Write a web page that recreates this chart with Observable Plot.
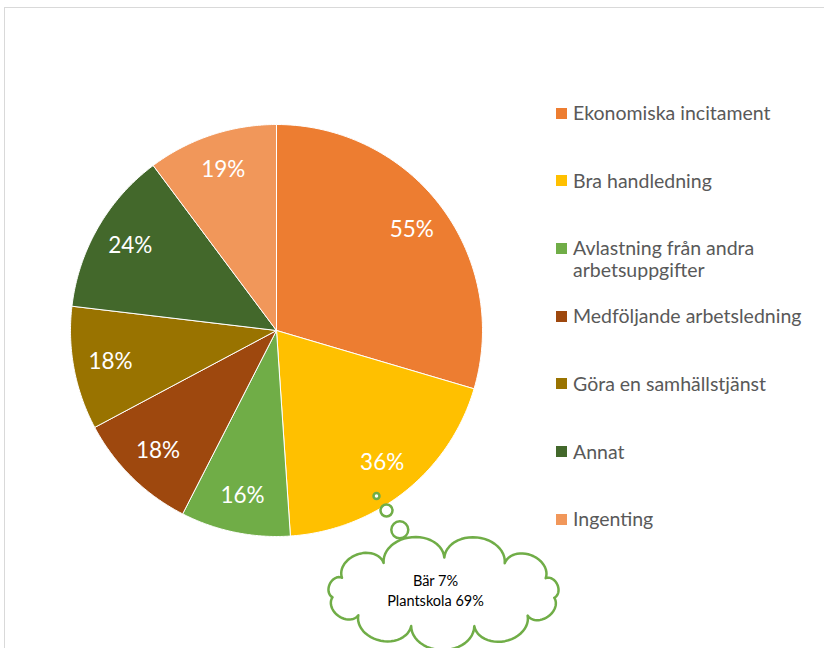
<!DOCTYPE html>
<html><head><meta charset="utf-8">
<script src="https://cdn.jsdelivr.net/npm/d3@7"></script>
<script src="https://cdn.jsdelivr.net/npm/@observablehq/plot@0.6"></script>
<style>
body{margin:0;background:#fff;font-family:Lato,"Open Sans",sans-serif;}
#wrap{position:relative;width:824px;height:648px;overflow:hidden;background:#fff}
#frame{position:absolute;left:4px;top:7px;right:-10px;bottom:-10px;border-top:1.5px solid #d9d9d9;border-left:1.5px solid #d9d9d9;box-sizing:border-box}
#chart{position:absolute;left:0;top:0}
.leg{position:absolute;left:556px;display:flex;align-items:flex-start;color:#595959;font-size:19.5px;line-height:22px}
.sw{width:11px;height:11px;margin-top:5.5px;margin-right:6px;flex:none}
.lt{width:245px}
</style></head>
<body><div id="wrap"><div id="frame"></div><div id="chart"></div></div>
<script>
const categories = ["Ekonomiska incitament","Bra handledning","Avlastning från andra arbetsuppgifter","Medföljande arbetsledning","Göra en samhällstjänst","Annat","Ingenting"];
const values = [55,36,16,18,18,24,19];
const labels = ["55%","36%","16%","18%","18%","24%","19%"];
const colors = ["#ED7D31","#FFC000","#70AD47","#9E480E","#997300","#43682B","#F1975A"];
const noteLines = ["Bär 7%","Plantskola 69%"];

// layout
const CX = 276, CY = 330, R = 206;
const toData = (px, py) => ({x: (px - CX) / R, y: (CY - py) / R});

const arcs = d3.pie().sort(null).value(d => d)(values);
const slicePts = [];
arcs.forEach((a, i) => {
  const name = categories[i];
  slicePts.push({name, x: 0, y: 0});
  const n = 80;
  for (let k = 0; k <= n; k++) {
    const t = a.startAngle + (a.endAngle - a.startAngle) * k / n;
    slicePts.push({name, x: Math.sin(t), y: Math.cos(t)});
  }
  slicePts.push({name, x: 0, y: 0});
});
const labelPts = arcs.map((a, i) => {
  const m = (a.startAngle + a.endAngle) / 2;
  return {x: 0.82 * Math.sin(m), y: 0.82 * Math.cos(m), text: labels[i]};
});

// thought cloud annotation (pixel layout)
const cloud = {cx: 443, cy: 592, rx: 112, ry: 35, bumps: 11};
const cloudPts = [];
const P = d3.range(cloud.bumps + 1).map(i => {
  const t = 2 * Math.PI * i / cloud.bumps + 0.15;
  return [cloud.cx + cloud.rx * Math.cos(t), cloud.cy + cloud.ry * Math.sin(t)];
});
for (let i = 0; i < cloud.bumps; i++) {
  const [x0, y0] = P[i], [x1, y1] = P[i + 1];
  const L = Math.hypot(x1 - x0, y1 - y0);
  const ux = (x1 - x0) / L, uy = (y1 - y0) / L;
  const nx = uy, ny = -ux;
  const mx = (x0 + x1) / 2, my = (y0 + y1) / 2;
  const h = 0.38 * L;
  for (let k = 0; k <= 24; k++) {
    const f = Math.PI * k / 24;
    const px = mx - (L / 2) * Math.cos(f) * ux + h * Math.sin(f) * nx;
    const py = my - (L / 2) * Math.cos(f) * uy + h * Math.sin(f) * ny;
    cloudPts.push(toData(px, py));
  }
}
const bubbles = [[376, 495.5, 3], [386, 510, 6], [399.3, 529.3, 8.5]].map(([px, py, r]) => ({...toData(px, py), r}));
const noteText = [{...toData(435, 589), text: noteLines.join("\n")}];

const chart = Plot.plot({
  width: 824, height: 648, margin: 0,
  x: {domain: [-1, 1], range: [CX - R, CX + R], axis: null},
  y: {domain: [-1, 1], range: [CY + R, CY - R], axis: null},
  color: {domain: categories, range: colors},
  r: {type: "identity"},
  style: {background: "transparent", overflow: "visible"},
  marks: [
    Plot.line(slicePts, {x: "x", y: "y", z: "name", fill: "name", stroke: "white", strokeWidth: 1, curve: "linear"}),
    Plot.text(labelPts, {x: "x", y: "y", text: "text", fill: "white", fontSize: 22.5, fontFamily: "Lato, 'Open Sans', sans-serif"}),
    Plot.dot(bubbles, {x: "x", y: "y", r: "r", stroke: "#70AD47", strokeWidth: 2.5, fill: "white"}),
    Plot.line(cloudPts, {x: "x", y: "y", stroke: "#70AD47", strokeWidth: 2.5, fill: "white", curve: "linear"}),
    Plot.text(noteText, {x: "x", y: "y", text: "text", fill: "#000", fontSize: 14.5, lineHeight: 1.35, fontFamily: "Lato, 'Open Sans', sans-serif"})
  ]
});
document.getElementById("chart").appendChild(chart);

const wrap = document.getElementById("wrap");
categories.forEach((c, i) => {
  const d = document.createElement("div");
  d.className = "leg";
  d.style.top = (113 + i * 67.7 - 11) + "px";
  d.innerHTML = `<div class="sw" style="background:${colors[i]}"></div><div class="lt">${c}</div>`;
  wrap.appendChild(d);
});
</script>
</body></html>
